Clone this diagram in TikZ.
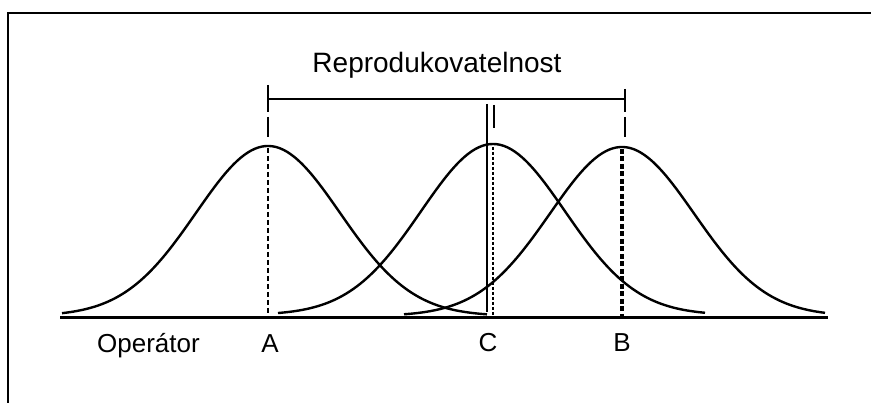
\documentclass[tikz,border=0pt]{standalone}
\usepackage{fontspec}
\setmainfont{Liberation Sans}
\begin{document}
\begin{tikzpicture}[x=1pt,y=-1pt,
  curve/.style={line width=2.4pt, line join=round},
  axisline/.style={line width=3pt},
  barline/.style={line width=2.8pt},
  tick/.style={line width=2.4pt},
  dashA/.style={line width=2.4pt, dash pattern=on 5pt off 3pt},
  dashC/.style={line width=1.8pt, dash pattern=on 3pt off 2pt},
  dashB/.style={line width=3.4pt, dash pattern=on 5pt off 2.5pt},
  lbl/.style={inner sep=0pt, anchor=base, font=\fontsize{26}{28}\selectfont},
  ttl/.style={inner sep=0pt, anchor=base, font=\fontsize{28}{30}\selectfont}]
\useasboundingbox (0,0) rectangle (871,403);
% frame
\draw[line width=2.4pt] (8,403) -- (8,13) -- (871,13);
% title
\node[ttl] (title) at (437,73) {Reprodukovatelnost};
% bar
\coordinate (barL) at (268,99);
\coordinate (barR) at (625,99);
\draw[barline] (barL) -- (barR);
\draw[tick] (268,85) -- (268,112);
\draw[tick] (268,117) -- (268,137);
\draw[tick] (625,89) -- (625,112);
\draw[tick] (625,117) -- (625,137);
% curves
\draw[curve] plot[domain=62:487, samples=120] (\x, {316-170*exp(-0.5*((\x-268)/72)^2)});
\draw[curve] plot[domain=278:705, samples=120] (\x, {315-171*exp(-0.5*((\x-493)/72)^2)});
\draw[curve] plot[domain=404:825, samples=120] (\x, {316-169*exp(-0.5*((\x-622)/72)^2)});
% baseline
\coordinate (axL) at (60,318);
\coordinate (axR) at (828,318);
\draw[axisline] (axL) -- (axR);
% verticals
\coordinate (peakA) at (268,148);
\coordinate (footA) at (268,317);
\draw[dashA] (peakA) -- (footA);
\coordinate (peakC) at (493,147);
\coordinate (footC) at (493,316);
\draw[dashC] (peakC) -- (footC);
\draw[tick] (494,105) -- (494,128);
\coordinate (lineCtop) at (487,104);
\coordinate (lineCbot) at (487,312);
\draw[line width=2pt] (lineCtop) -- (lineCbot);
\coordinate (peakB) at (622,149);
\coordinate (footB) at (622,317);
\draw[dashB] (peakB) -- (footB);
% labels
\node[lbl, anchor=base west] (op) at (97,353) {Operátor};
\node[lbl] (A) at (270,353) {A};
\node[lbl] (C) at (488,352) {C};
\node[lbl] (B) at (622,352) {B};
\end{tikzpicture}
\end{document}
